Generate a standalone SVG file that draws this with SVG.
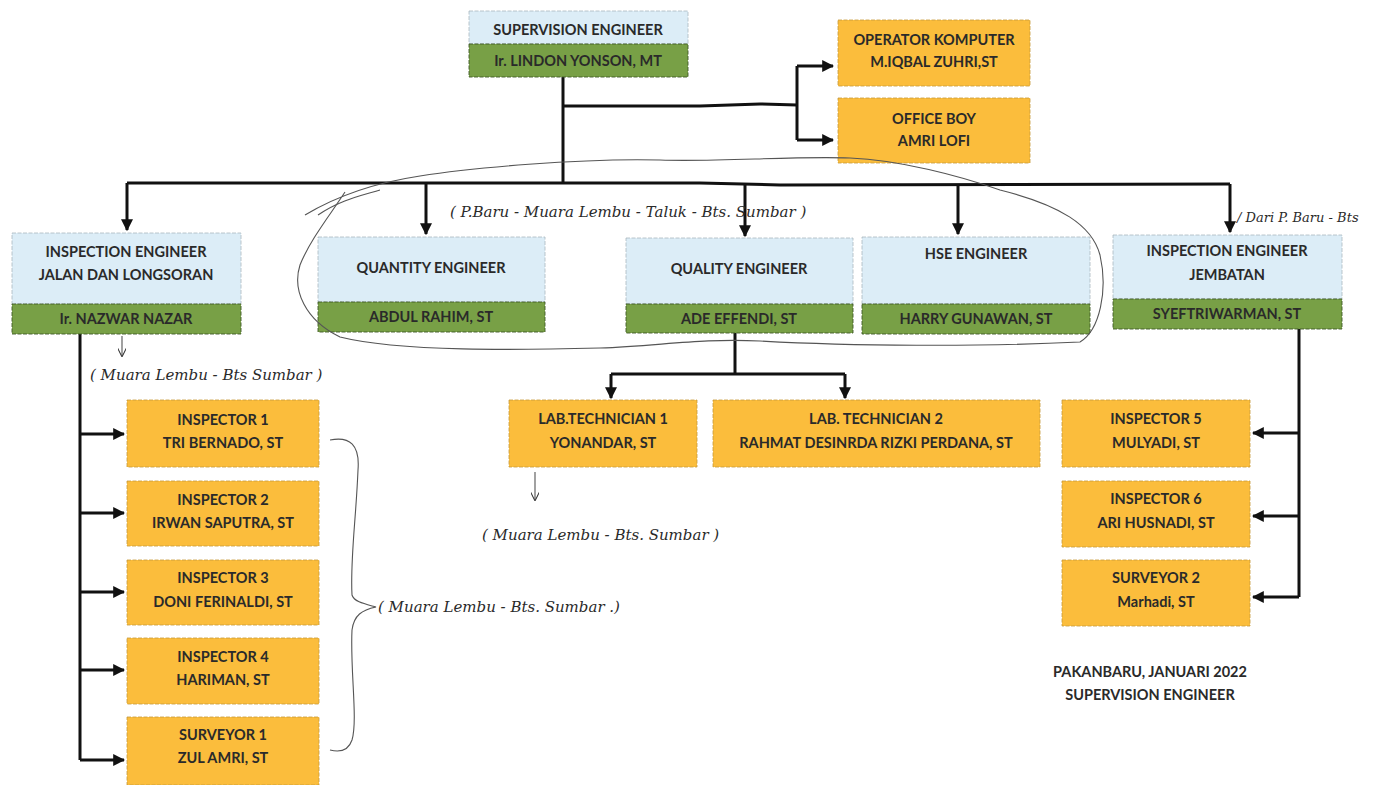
<svg xmlns="http://www.w3.org/2000/svg" width="1375" height="785" viewBox="0 0 1375 785">
<defs>
<marker id="arr" viewBox="0 0 10 10" refX="9" refY="5" markerWidth="4" markerHeight="4" orient="auto" markerUnits="strokeWidth">
<path d="M0,0 L10,5 L0,10 Z" fill="#111"/>
</marker>
<marker id="thin" viewBox="0 0 10 10" refX="9" refY="5" markerWidth="8" markerHeight="8" orient="auto" markerUnits="strokeWidth">
<path d="M0,0 L10,5 L0,10" fill="none" stroke="#333" stroke-width="1.2"/>
</marker>
</defs>
<style>
.blue{fill:#dcedf7;stroke:#a9b8bf;stroke-width:0.8;stroke-dasharray:4 1.5}
.green{fill:#78a046;stroke:#3f5a26;stroke-width:0.9;stroke-dasharray:4 1.5}
.orange{fill:#fbbd3c;stroke:#c79a3a;stroke-width:0.8;stroke-dasharray:4 1.5}
.t{font-family:Lato,"Open Sans","Liberation Sans",sans-serif;font-size:14.5px;font-weight:bold;fill:#2a2a2a;text-anchor:middle}
.hw{font-family:"DejaVu Serif","Liberation Serif",serif;font-style:italic;font-size:15px;fill:#2a2a2a}
.hs{font-size:13px}
.ln{fill:none;stroke:#111;stroke-width:3}
.pen{fill:none;stroke:#555;stroke-width:1.1}
</style>
<rect width="1375" height="785" fill="#ffffff"/>

<g id="connectors">
<path class="ln" d="M563,77 V184"/>
<path class="ln" d="M563,106 L700,106 L760,104 L797,105"/>
<path class="ln" d="M797,66 V140"/>
<path class="ln" d="M797,66 H833" marker-end="url(#arr)"/>
<path class="ln" d="M797,140 H833" marker-end="url(#arr)"/>
<path class="ln" d="M127,183 L700,183 L780,185 L1230,184"/>
<path class="ln" d="M127,183 V230" marker-end="url(#arr)"/>
<path class="ln" d="M426,183 V234" marker-end="url(#arr)"/>
<path class="ln" d="M745,184 V236" marker-end="url(#arr)"/>
<path class="ln" d="M958,184 V234" marker-end="url(#arr)"/>
<path class="ln" d="M1230,184 V232" marker-end="url(#arr)"/>
<path class="ln" d="M80,334 V760"/>
<path class="ln" d="M80,434 H124" marker-end="url(#arr)"/>
<path class="ln" d="M80,513 H124" marker-end="url(#arr)"/>
<path class="ln" d="M80,592 H124" marker-end="url(#arr)"/>
<path class="ln" d="M80,670 H124" marker-end="url(#arr)"/>
<path class="ln" d="M80,760 H124" marker-end="url(#arr)"/>
<path class="ln" d="M735,333 V374"/>
<path class="ln" d="M611,374 H845"/>
<path class="ln" d="M611,374 V398" marker-end="url(#arr)"/>
<path class="ln" d="M845,374 V398" marker-end="url(#arr)"/>
<path class="ln" d="M1299,329 V597"/>
<path class="ln" d="M1299,433 H1253" marker-end="url(#arr)"/>
<path class="ln" d="M1299,516 H1253" marker-end="url(#arr)"/>
<path class="ln" d="M1299,597 H1253" marker-end="url(#arr)"/>
</g>

<g id="supervision">
<rect class="blue" x="469" y="11" width="219" height="33"/>
<rect class="green" x="469" y="44" width="219" height="33"/>
<text class="t" x="578" y="35">SUPERVISION ENGINEER</text>
<text class="t" x="578" y="66">Ir. LINDON YONSON, MT</text>
</g>
<g id="operator">
<rect class="orange" x="838" y="20" width="192" height="66"/>
<text class="t" x="934" y="45">OPERATOR KOMPUTER</text>
<text class="t" x="934" y="67">M.IQBAL ZUHRI,ST</text>
</g>
<g id="officeboy">
<rect class="orange" x="838" y="98" width="192" height="65"/>
<text class="t" x="934" y="124">OFFICE BOY</text>
<text class="t" x="934" y="146">AMRI LOFI</text>
</g>

<g id="ie-jalan">
<rect class="blue" x="12" y="233" width="229" height="71"/>
<rect class="green" x="12" y="304" width="229" height="30"/>
<text class="t" x="126" y="257">INSPECTION ENGINEER</text>
<text class="t" x="126" y="280">JALAN DAN LONGSORAN</text>
<text class="t" x="126" y="324">Ir. NAZWAR NAZAR</text>
</g>
<g id="quantity">
<rect class="blue" x="318" y="237" width="227" height="65"/>
<rect class="green" x="318" y="302" width="227" height="30"/>
<text class="t" x="431" y="273">QUANTITY ENGINEER</text>
<text class="t" x="431" y="322">ABDUL RAHIM, ST</text>
</g>
<g id="quality">
<rect class="blue" x="626" y="238" width="227" height="66"/>
<rect class="green" x="626" y="304" width="227" height="29"/>
<text class="t" x="739" y="274">QUALITY ENGINEER</text>
<text class="t" x="739" y="324">ADE EFFENDI, ST</text>
</g>
<g id="hse">
<rect class="blue" x="862" y="237" width="228" height="67"/>
<rect class="green" x="862" y="304" width="228" height="30"/>
<text class="t" x="976" y="259">HSE ENGINEER</text>
<text class="t" x="976" y="324">HARRY GUNAWAN, ST</text>
</g>
<g id="ie-jembatan">
<rect class="blue" x="1113" y="235" width="229" height="64"/>
<rect class="green" x="1113" y="299" width="229" height="30"/>
<text class="t" x="1227" y="256">INSPECTION ENGINEER</text>
<text class="t" x="1227" y="280">JEMBATAN</text>
<text class="t" x="1227" y="319">SYEFTRIWARMAN, ST</text>
</g>

<g id="inspector1">
<rect class="orange" x="127" y="400" width="192" height="67"/>
<text class="t" x="223" y="425">INSPECTOR 1</text>
<text class="t" x="223" y="448">TRI BERNADO, ST</text>
</g>
<g id="inspector2">
<rect class="orange" x="127" y="481" width="192" height="65"/>
<text class="t" x="223" y="505">INSPECTOR 2</text>
<text class="t" x="223" y="528">IRWAN SAPUTRA, ST</text>
</g>
<g id="inspector3">
<rect class="orange" x="127" y="560" width="192" height="65"/>
<text class="t" x="223" y="583">INSPECTOR  3</text>
<text class="t" x="223" y="607">DONI FERINALDI, ST</text>
</g>
<g id="inspector4">
<rect class="orange" x="127" y="638" width="192" height="66"/>
<text class="t" x="223" y="662">INSPECTOR 4</text>
<text class="t" x="223" y="685">HARIMAN, ST</text>
</g>
<g id="surveyor1">
<rect class="orange" x="127" y="717" width="192" height="68"/>
<text class="t" x="223" y="740">SURVEYOR 1</text>
<text class="t" x="223" y="763">ZUL AMRI, ST</text>
</g>

<g id="labtech1">
<rect class="orange" x="509" y="400" width="188" height="67"/>
<text class="t" x="603" y="424">LAB.TECHNICIAN  1</text>
<text class="t" x="603" y="448">YONANDAR, ST</text>
</g>
<g id="labtech2">
<rect class="orange" x="713" y="400" width="327" height="67"/>
<text class="t" x="876" y="424">LAB. TECHNICIAN 2</text>
<text class="t" x="876" y="448">RAHMAT DESINRDA RIZKI PERDANA, ST</text>
</g>

<g id="inspector5">
<rect class="orange" x="1062" y="400" width="188" height="67"/>
<text class="t" x="1156" y="424">INSPECTOR 5</text>
<text class="t" x="1156" y="448">MULYADI, ST</text>
</g>
<g id="inspector6">
<rect class="orange" x="1062" y="481" width="188" height="66"/>
<text class="t" x="1156" y="504">INSPECTOR 6</text>
<text class="t" x="1156" y="528">ARI HUSNADI, ST</text>
</g>
<g id="surveyor2">
<rect class="orange" x="1062" y="560" width="188" height="66"/>
<text class="t" x="1156" y="583">SURVEYOR 2</text>
<text class="t" x="1156" y="607">Marhadi, ST</text>
</g>

<g id="footer">
<text class="t" x="1150" y="677">PAKANBARU, JANUARI 2022</text>
<text class="t" x="1150" y="700">SUPERVISION ENGINEER</text>
</g>

<g id="annotations">
<path class="pen" d="M345,192 C330,215 310,240 300,265 C292,290 305,320 340,337 C400,352 520,350 600,348 C660,346 700,338 760,341 C850,346 980,347 1080,342 C1100,330 1108,290 1100,255 C1092,225 1060,205 1000,190 C960,176 900,160 850,158 C790,156 720,162 660,160 C580,158 470,168 420,176 C380,182 340,194 305,215"/>
<path class="pen" d="M318,215 C340,200 360,196 380,190"/>
<text class="hw" x="450" y="217">( P.Baru - Muara Lembu - Taluk - Bts. Sumbar )</text>
<text class="hw hs" x="1237" y="222">/ Dari P. Baru - Bts</text>
<path class="pen" d="M122,336 V356" marker-end="url(#thin)"/>
<text class="hw" x="90" y="380">( Muara Lembu - Bts Sumbar )</text>
<path class="pen" d="M535,472 V500" marker-end="url(#thin)"/>
<text class="hw" x="482" y="540">( Muara Lembu - Bts. Sumbar )</text>
<path class="pen" d="M330,440 C350,436 360,445 358,470 C356,520 350,560 352,595 C354,602 365,604 376,607 C362,610 354,615 352,630 C350,670 358,720 352,740 C348,752 338,752 330,750"/>
<text class="hw" x="378" y="612">( Muara Lembu - Bts. Sumbar .)</text>
</g>
</svg>
